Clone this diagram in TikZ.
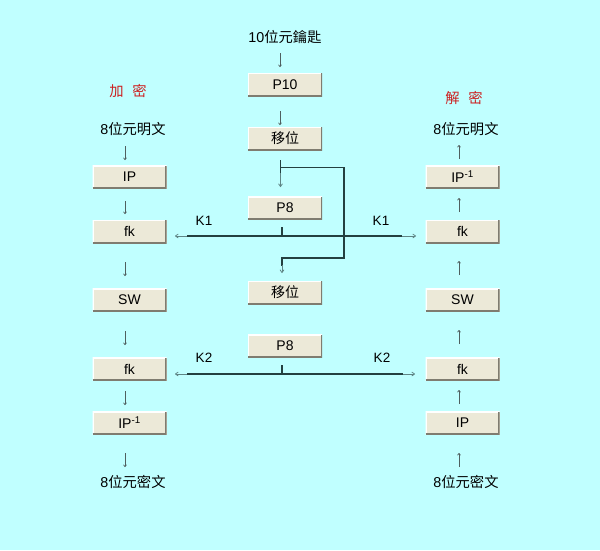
\documentclass[tikz,border=0pt]{standalone}
\usepackage{fontspec}
\setmainfont{Liberation Sans}
\newfontfamily\cjk{Noto Sans CJK TC}
\usetikzlibrary{arrows.meta}
\definecolor{bg}{HTML}{C0FFFF}
\definecolor{btnface}{HTML}{ECE9D8}
\definecolor{btnshadow}{HTML}{7F7C70}
\definecolor{linedark}{HTML}{234040}
\definecolor{linelight}{HTML}{5F8585}
\definecolor{arrgray}{HTML}{4F5F5F}
\definecolor{redtxt}{HTML}{CC2020}
\tikzset{
  btn/.style={fill=btnface, minimum width=74pt, minimum height=23pt, inner sep=0pt,
    font=\fontsize{14pt}{16pt}\selectfont,
    path picture={
      \draw[white,line width=2.4pt] (path picture bounding box.south west) |- (path picture bounding box.north east);
      \draw[btnshadow,line width=2.6pt] (path picture bounding box.south west) -| (path picture bounding box.north east);
    }},
  lbl/.style={inner sep=0pt, font=\fontsize{14.3pt}{16pt}\selectfont},
  klbl/.style={inner sep=0pt, font=\fontsize{13.5pt}{15pt}\selectfont},
  redlbl/.style={lbl, text=redtxt},
  sarrow/.style={arrgray, line width=0.7pt, -{To[length=2.5pt,width=3.5pt]}},
  kline/.style={linedark, line width=1.1pt},
  karrow/.style={linelight, line width=0.8pt, -{To[length=3.5pt,width=4.5pt]}},
}
\begin{document}
\begin{tikzpicture}[x=1pt,y=-1pt]
\fill[bg] (0,0) rectangle (600,550);
\useasboundingbox (0,0) rectangle (600,550);

% centre column
\node[lbl] (key) at (285,37) {10{\cjk 位元鑰匙}};
\node[btn] (p10) at (285,84.5) {P10};
\node[btn] (ls1) at (285,138.5) {\cjk 移位};
\node[btn] (p8a) at (285,208) {P8};
\node[btn] (ls2) at (285,292.5) {\cjk 移位};
\node[btn] (p8b) at (285,346) {P8};

% left column (encryption)
\node[redlbl] (enc) at (128,91) {\cjk 加\hspace{0.6em}密};
\node[lbl] (ptl) at (133,129) {8{\cjk 位元明文}};
\node[btn] (ipl) at (129.5,177) {IP};
\node[btn] (fkl1) at (129.5,231.5) {fk};
\node[btn] (swl) at (129.5,300) {SW};
\node[btn] (fkl2) at (129.5,369) {fk};
\node[btn] (ipil) at (129.5,423) {IP\textsuperscript{-1}};
\node[lbl] (ctl) at (133,482) {8{\cjk 位元密文}};

% right column (decryption)
\node[redlbl] (dec) at (464,98) {\cjk 解\hspace{0.6em}密};
\node[lbl] (ptr) at (466,129) {8{\cjk 位元明文}};
\node[btn] (ipir) at (462.5,177) {IP\textsuperscript{-1}};
\node[btn] (fkr1) at (462.5,231.5) {fk};
\node[btn] (swr) at (462.5,300) {SW};
\node[btn] (fkr2) at (462.5,369) {fk};
\node[btn] (ipr) at (462.5,423) {IP};
\node[lbl] (ctr) at (466,482) {8{\cjk 位元密文}};

% key labels
\node[klbl] (k1l) at (204,221) {K1};
\node[klbl] (k1r) at (381,221) {K1};
\node[klbl] (k2l) at (204,358) {K2};
\node[klbl] (k2r) at (382,358) {K2};

% small arrows, centre
\draw[sarrow] (280,53) -- (280,67);
\draw[sarrow] (280,111) -- (280,125);

% small arrows, left (down)
\foreach \a/\b in {146/160, 201/214, 262/276, 331/345, 391/405, 453/467}
  \draw[sarrow] (125,\a) -- (125,\b);
% small arrows, right (up)
\foreach \a/\b in {159/145, 212/198, 275/261, 344/330, 404/390, 467/453}
  \draw[sarrow] (459,\a) -- (459,\b);

% key schedule connectors
\coordinate (s1) at (280.5,160);
\coordinate (s2) at (280.5,173);
\coordinate (s3) at (280.5,187);
\coordinate (j1) at (280.5,167.7);
\coordinate (j2) at (344,167.7);
\coordinate (j3) at (344,258);
\coordinate (j4) at (282,258);
\coordinate (j5) at (282,273);
\draw[kline] (s1) -- (s2);
\draw[karrow] (s2) -- (s3);
\draw[kline] (j1) -- (j2) -- (j3) -- (j4) -- (282,266);
\draw[karrow] (282,265) -- (j5);

% K1 distribution
\coordinate (t1) at (282,227);
\coordinate (t2) at (282,236);
\coordinate (a1l) at (187,236);
\coordinate (a1r) at (402,236);
\coordinate (e1l) at (175,236);
\coordinate (e1r) at (416,236);
\draw[kline] (t1) -- (t2);
\draw[kline] (a1l) -- (a1r);
\draw[karrow] (a1l) -- (e1l);
\draw[karrow] (a1r) -- (e1r);

% K2 distribution
\coordinate (t3) at (282,365);
\coordinate (t4) at (282,374);
\coordinate (a2l) at (187,374);
\coordinate (a2r) at (403,374);
\coordinate (e2l) at (175,374);
\coordinate (e2r) at (415,374);
\draw[kline] (t3) -- (t4);
\draw[kline] (277,374) -- (287,374);
\draw[kline] (a2l) -- (a2r);
\draw[karrow] (a2l) -- (e2l);
\draw[karrow] (a2r) -- (e2r);
\end{tikzpicture}
\end{document}
